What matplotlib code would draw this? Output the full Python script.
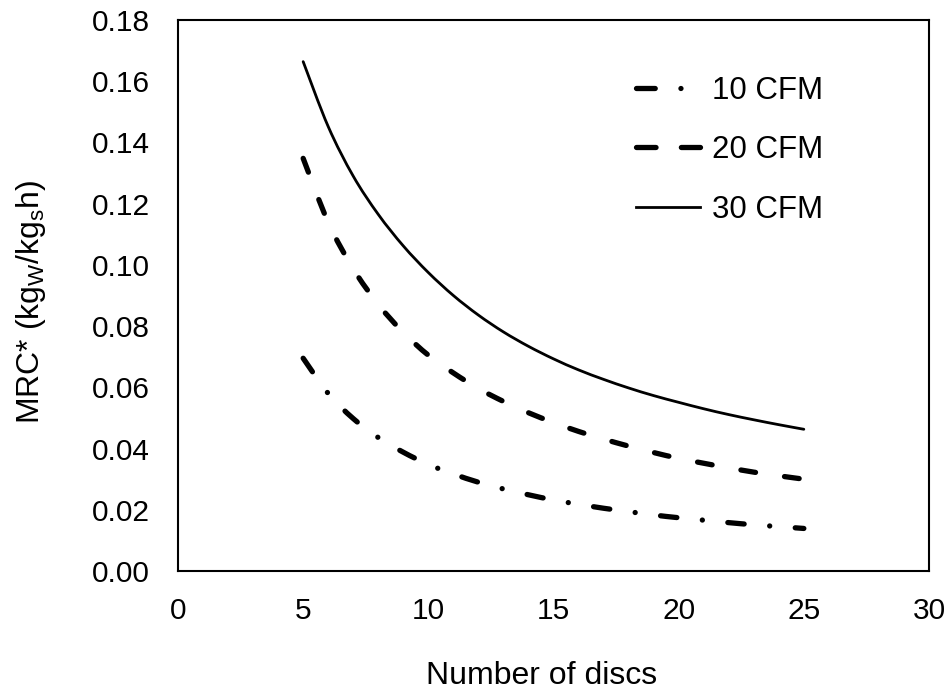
import matplotlib
matplotlib.use("Agg")
import matplotlib.pyplot as plt
from matplotlib.path import Path
from matplotlib.patches import PathPatch
from matplotlib.lines import Line2D

plt.rcParams['font.family'] = ['Liberation Sans', 'DejaVu Sans']
plt.rcParams['mathtext.fontset'] = 'custom'
plt.rcParams['mathtext.rm'] = 'Liberation Sans'
plt.rcParams['mathtext.it'] = 'Liberation Sans'

discs = [5, 6, 7, 8, 9, 10, 11, 12, 13, 14, 15, 16, 17, 18, 19, 20, 21, 22, 23, 24, 25]
cfm10 = [0.0695, 0.0580, 0.0498, 0.0436, 0.0388, 0.0348, 0.0317, 0.0290, 0.0268, 0.0249, 0.0232,
         0.0218, 0.0205, 0.0194, 0.0183, 0.0174, 0.0166, 0.0158, 0.0151, 0.0145, 0.0139]
cfm20 = [0.1348, 0.1139, 0.0987, 0.0871, 0.0779, 0.0705, 0.0647, 0.0596, 0.0554, 0.0517, 0.0485,
         0.0456, 0.0431, 0.0408, 0.0387, 0.0368, 0.0352, 0.0337, 0.0323, 0.0311, 0.0300]
cfm30 = [0.1664, 0.1452, 0.1290, 0.1165, 0.1062, 0.0975, 0.0900, 0.0836, 0.0781, 0.0734, 0.0693,
         0.0657, 0.0626, 0.0598, 0.0573, 0.0551, 0.0530, 0.0511, 0.0494, 0.0478, 0.0463]
labels = ['10 CFM', '20 CFM', '30 CFM']
xticks = [0, 5, 10, 15, 20, 25, 30]
yticks = [0.00, 0.02, 0.04, 0.06, 0.08, 0.10, 0.12, 0.14, 0.16, 0.18]


def smooth_path(x, y):
    """Smoothed (Catmull-Rom style Bezier) line through the data points, like a
    spreadsheet 'smoothed line'."""
    pts = list(zip(x, y))
    verts = [pts[0]]
    codes = [Path.MOVETO]
    n = len(pts)
    for i in range(n - 1):
        p0 = pts[i - 1] if i > 0 else pts[i]
        p1 = pts[i]
        p2 = pts[i + 1]
        p3 = pts[i + 2] if i + 2 < n else pts[i + 1]
        c1 = (p1[0] + (p2[0] - p0[0]) / 6.0, p1[1] + (p2[1] - p0[1]) / 6.0)
        c2 = (p2[0] - (p3[0] - p1[0]) / 6.0, p2[1] - (p3[1] - p1[1]) / 6.0)
        verts += [c1, c2, p2]
        codes += [Path.CURVE4] * 3
    return Path(verts, codes)


fig = plt.figure(figsize=(9.5, 6.9), dpi=100)
ax = fig.add_axes([178 / 950, 1 - 571 / 690, 751 / 950, 551 / 690])
ax.set_xlim(0, 30)
ax.set_ylim(0, 0.18)

LW_D = 3.8
styles = [
    dict(lw=LW_D, ls=(0, (3.1, 4.85, 0.01, 4.85)), leg_dash=[3.55, 4.87, 0.01, 20]),
    dict(lw=LW_D, ls=(0, (2.8, 5.55)), leg_dash=[3.7, 4.8]),
    dict(lw=2.0, ls='-', leg_dash=None),
]
series = [cfm10, cfm20, cfm30]
handles = []
for vals, st, lab in zip(series, styles, labels):
    patch = PathPatch(smooth_path(discs, vals), fill=False, edgecolor='black',
                      lw=st['lw'], linestyle=st['ls'], capstyle='round', joinstyle='round')
    ax.add_patch(patch)
    h = Line2D([], [], color='black', lw=st['lw'], dash_capstyle='round', label=lab)
    if st['leg_dash'] is not None:
        h.set_dashes(st['leg_dash'])
    handles.append(h)

ax.set_xticks(xticks)
ax.set_yticks(yticks)
ax.set_xticklabels([str(t) for t in xticks])
ax.set_yticklabels([f"{t:.2f}" for t in yticks])
ax.tick_params(length=0, labelsize=21.5, colors='black')
ax.tick_params(axis='x', pad=19)
ax.tick_params(axis='y', pad=20)
for s in ax.spines.values():
    s.set_linewidth(1.5)
    s.set_color('black')

ax.set_xlabel('Number of discs', fontsize=23)
ax.xaxis.set_label_coords((542 - 178) / 751, (571 - 676) / 551)
ax.xaxis.label.set_va('center')
ax.set_ylabel('MRC* (kg$_\\mathregular{W}$/kg$_\\mathregular{s}$h)', fontsize=23)
ax.yaxis.set_label_coords((31 - 178) / 751, (571 - 302) / 551)
ax.yaxis.label.set_va('center')

leg = ax.legend(handles=handles, loc='upper left',
                bbox_to_anchor=((635.6 - 178) / 751, (571 - 76) / 551),
                frameon=False, fontsize=22.5, handlelength=2.07, handletextpad=0.38,
                labelspacing=0.94, borderpad=0, borderaxespad=0)

fig.savefig('out.png', dpi=100)
